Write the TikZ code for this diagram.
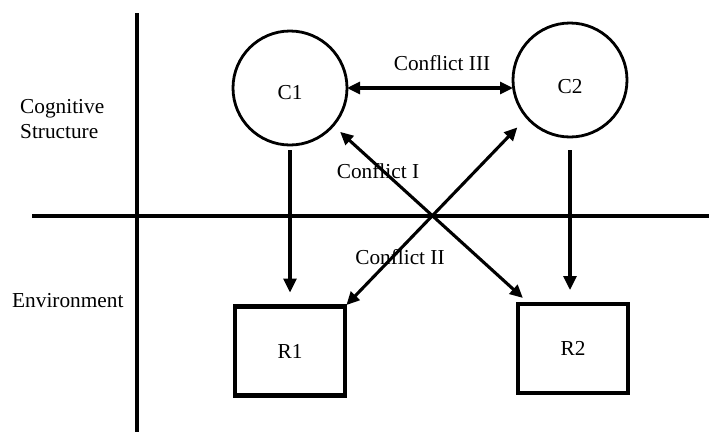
\documentclass[tikz,border=0pt]{standalone}
\usepackage{fontspec}
\setmainfont{Liberation Serif}
\usetikzlibrary{arrows.meta,calc}
\begin{document}
\begin{tikzpicture}[x=1pt,y=-1pt,
  txt/.style={font=\fontsize{21.3}{25}\selectfont, inner sep=0pt},
  circ/.style={circle, draw, line width=2.8pt, minimum size=114pt, inner sep=0pt, outer sep=0pt, txt},
  boxn/.style={rectangle, draw, line width=4.3pt, minimum width=110pt, minimum height=89pt, inner sep=0pt, outer sep=0pt, txt},
  axis/.style={line width=3.3pt},
  conn/.style={line width=3.1pt, -{Triangle[length=14pt,width=13pt]}},
  dconn/.style={line width=3.1pt, {Triangle[length=13pt,width=12pt]}-{Triangle[length=13pt,width=12pt]}},
]
\useasboundingbox (0,0) rectangle (709,434);
% axes
\draw[axis] (137,13) -- (137,432);
\draw[axis] (32,216) -- (709,216);
% side labels
\node[txt, anchor=west, align=left] (cog) at (20,119) {Cognitive\\Structure};
\node[txt, anchor=west] (env) at (12,301) {Environment};
% nodes
\node[circ] (c1) at (290,88) {\smash{\raisebox{-11.7pt}{C1}}};
\node[circ] (c2) at (570,80) {\smash{\raisebox{-13pt}{C2}}};
\node[boxn] (r1) at (290,351) {R1};
\node[boxn] (r2) at (573,348.5) {R2};
% connectors
\draw[dconn] (c1.east) -- (c1.east -| c2.west);
\draw[conn, shorten <=5pt, shorten >=14pt] (c1.south) -- (r1.north);
\draw[conn, shorten <=13pt, shorten >=14pt] (c2.south) -- (c2.south |- r2.north);
\draw[dconn, shorten <=9.6pt, shorten >=9pt] (c1.-41) -- ($(r2.north west)!0.105!(r2.north east)$);
\draw[dconn, shorten <=13.9pt, shorten >=2pt] (c2.-139.7) -- (r1.north east);
% labels
\node[txt] (l3) at (442,63) {Conflict III};
\node[txt] (l1) at (378,171) {Conflict I};
\node[txt] (l2) at (400,257) {Conflict II};
\end{tikzpicture}
\end{document}
